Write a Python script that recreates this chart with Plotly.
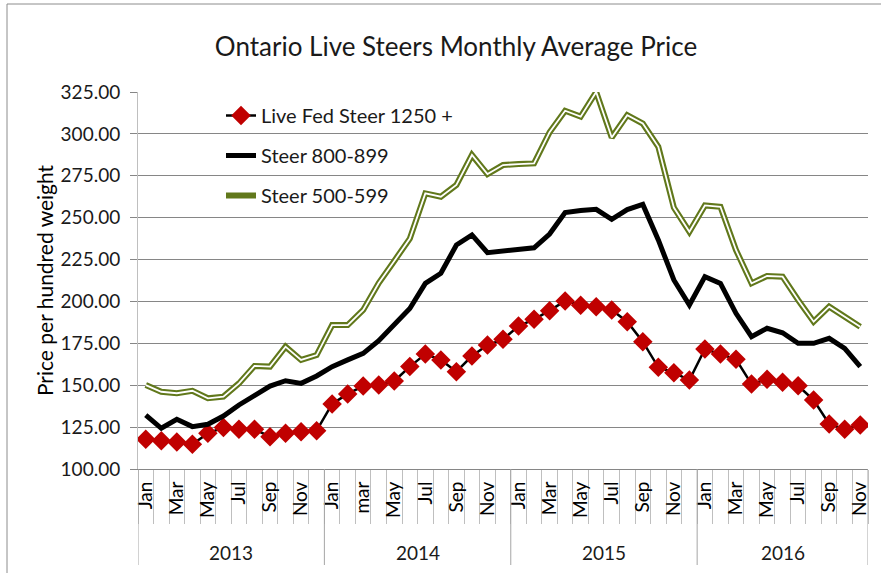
import plotly.graph_objects as go

years = ["2013", "2014", "2015", "2016"]
months_by_year = [
    ["Jan", "Feb", "Mar", "Apr", "May", "Jun", "Jul", "Aug", "Sep", "Oct", "Nov", "Dec"],
    ["Jan", "Feb", "mar", "Apr", "May", "Jun", "Jul", "Aug", "Sep", "Oct", "Nov", "Dec"],
    ["Jan", "Feb", "Mar", "Apr", "May", "Jun", "Jul", "Aug", "Sep", "Oct", "Nov", "Dec"],
    ["Jan", "Feb", "Mar", "Apr", "May", "Jun", "Jul", "Aug", "Sep", "Oct", "Nov"],
]

live_fed_steer_1250 = [
    117.7, 116.9, 116.1, 114.7, 121.3, 124.7, 123.7, 123.7, 119.3, 121.3, 122.3, 122.9,
    138.8, 144.8, 149.5, 150.1, 152.5, 161.1, 168.6, 165.1, 158.1, 167.4, 174.0, 177.4,
    185.3, 189.3, 194.5, 200.3, 197.7, 196.9, 194.9, 187.9, 176.0, 160.7, 157.5, 153.1,
    171.6, 168.6, 165.5, 150.7, 153.5, 151.7, 149.7, 141.2, 126.9, 123.7, 126.3,
]
steer_800_899 = [
    132.2, 124.3, 129.7, 125.3, 126.7, 131.6, 138.2, 144.2, 149.5, 152.7, 151.1, 155.5,
    161.1, 165.1, 169.0, 176.6, 186.6, 195.8, 210.8, 216.8, 233.7, 239.7, 229.1, 230.2,
    231.2, 232.0, 240.2, 253.0, 254.3, 255.0, 249.0, 254.8, 257.9, 236.7, 212.8, 197.9,
    214.8, 210.8, 192.9, 179.0, 184.0, 181.3, 175.0, 175.0, 178.0, 172.0, 161.1,
]
steer_500_599 = [
    150.1, 146.1, 145.2, 146.7, 142.2, 143.2, 151.1, 161.5, 161.1, 173.0, 165.1, 168.0,
    185.9, 185.9, 194.9, 211.0, 224.2, 237.5, 264.5, 262.5, 269.5, 287.4, 276.0, 281.4,
    282.0, 282.4, 301.0, 313.8, 310.3, 325.0, 297.8, 311.2, 306.2, 292.3, 256.0, 241.6,
    257.3, 256.5, 230.7, 210.8, 215.2, 214.8, 200.9, 187.9, 196.9, 190.9, 184.9,
]

y_ticks = [100, 125, 150, 175, 200, 225, 250, 275, 300, 325]

# category keys and labels (every other month labelled, as in the original)
cats, labels, year_bounds = [], [], []
for y, ms in zip(years, months_by_year):
    start = len(cats)
    for k, m in enumerate(ms):
        cats.append(f"{y}-{k}")
        labels.append(m if k % 2 == 0 else "")
    year_bounds.append((start, len(cats) - 1))

FONT = "Lato"
GREEN = "#61781B"
RED = "#C00000"

fig = go.Figure()
fig.add_trace(go.Scatter(
    x=cats, y=live_fed_steer_1250, name="Live Fed Steer 1250 +", mode="lines+markers",
    line=dict(color="black", width=2.5),
    marker=dict(symbol="diamond", size=15, color=RED),
    legendgroup="a",
))
fig.add_trace(go.Scatter(
    x=cats, y=steer_800_899, name="Steer 800-899", mode="lines",
    line=dict(color="black", width=5), legendgroup="b",
))
fig.add_trace(go.Scatter(
    x=cats, y=steer_500_599, name="Steer 500-599", mode="lines",
    line=dict(color=GREEN, width=6), legendgroup="c",
))
fig.add_trace(go.Scatter(
    x=cats, y=steer_500_599, mode="lines", showlegend=False, hoverinfo="skip",
    line=dict(color="white", width=1.8), legendgroup="c",
))

L, R, T, B = 138, 13, 92, 104
W, H = 881, 573
pw, ph = W - L - R, H - T - B

shapes = []
# year dividers extending below the axis
bounds = [b[0] - 0.5 for b in year_bounds] + [year_bounds[-1][1] + 0.5]
for bx in bounds:
    shapes.append(dict(type="line", xref="x", yref="paper", x0=bx, x1=bx,
                       y0=0, y1=-(565 - 469) / ph, line=dict(color="#A6A6A6", width=1)))
# chart border
shapes.append(dict(type="rect", xref="paper", yref="paper",
                   x0=(7 - L) / pw, x1=(W + 20 - L) / pw,
                   y0=-(H + 20 - T - ph) / ph, y1=(T + ph - 4) / ph,
                   line=dict(color="#8C8C8C", width=1), fillcolor="rgba(0,0,0,0)", layer="below"))

annotations = []
for y, (s, e) in zip(years, year_bounds):
    annotations.append(dict(x=(s + e) / 2, xref="x", y=-(552 - 469) / ph, yref="paper",
                            text=y, showarrow=False, font=dict(family=FONT, size=19, color="#1a1a1a"),
                            xanchor="center", yanchor="middle"))

fig.update_layout(
    width=W, height=H,
    margin=dict(l=L, r=R, t=T, b=B),
    paper_bgcolor="white", plot_bgcolor="white",
    font=dict(family=FONT, color="#1a1a1a"),
    title=dict(text="Ontario Live Steers Monthly Average Price", x=456 / W, xref="container",
               xanchor="center", y=1 - 47 / H, yref="container", yanchor="middle",
               font=dict(family=FONT, size=26, color="#1a1a1a")),
    showlegend=True,
    legend=dict(x=(221 - L) / pw, y=(469 - 96) / ph, xanchor="left", yanchor="top",
                bgcolor="rgba(0,0,0,0)", font=dict(family=FONT, size=20, color="#1a1a1a"),
                tracegroupgap=11, traceorder="grouped"),
    shapes=shapes, annotations=annotations,
    xaxis=dict(type="category", categoryorder="array", categoryarray=cats,
               tickmode="array", tickvals=cats, ticktext=labels,
               tickson="boundaries", ticks="outside", ticklen=54, tickcolor="#BFBFBF", tickwidth=1,
               tickangle=-90, tickfont=dict(family=FONT, size=19, color="black"),
               showgrid=False, showline=True, linecolor="#868686", linewidth=1,
               range=[-0.5, len(cats) - 0.5], zeroline=False, ticklabelstandoff=4),
    yaxis=dict(range=[100, 325], tickmode="array", tickvals=y_ticks,
               tickformat=".2f", ticks="outside", ticklen=7, tickcolor="#868686",
               showgrid=True, gridcolor="#868686", gridwidth=1,
               showline=True, linecolor="#BFBFBF", linewidth=1, zeroline=False,
               ticklabelstandoff=6,
               tickfont=dict(family=FONT, size=19, color="#1a1a1a"),
               title=dict(text="Price per hundred weight", font=dict(family=FONT, size=21, color="black"),
                          standoff=1)),
)

fig.write_html("out.html", config={"displayModeBar": False},
               post_script="document.body.style.margin='0';document.body.style.overflow='hidden';")
